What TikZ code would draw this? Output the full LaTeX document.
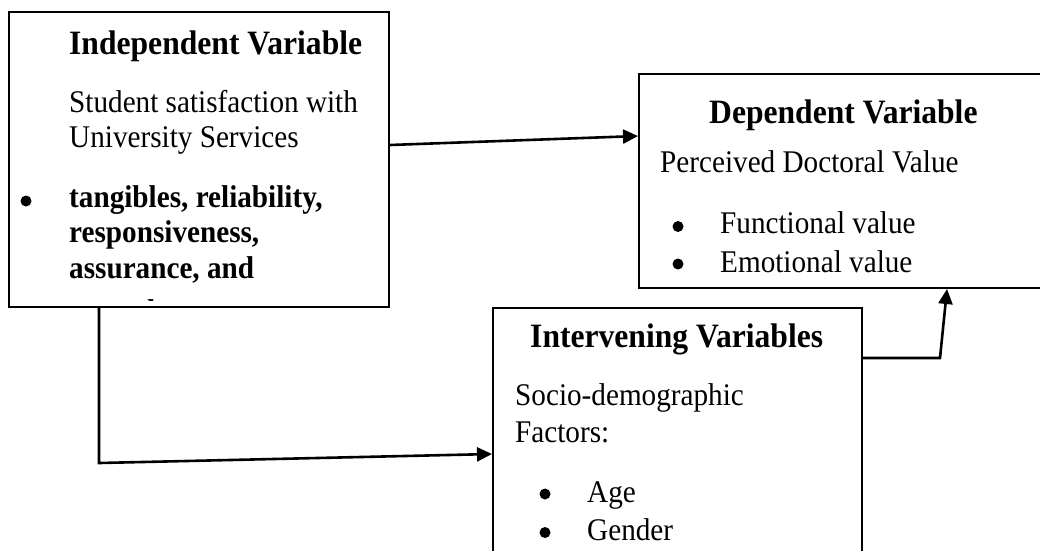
\documentclass[tikz,border=0pt]{standalone}
\usepackage{fontspec}
\setmainfont{Liberation Serif}
\usetikzlibrary{arrows.meta}

\tikzset{
  varbox/.style={draw, line width=2pt, rectangle, inner sep=0pt},
  headtxt/.style={anchor=base west, inner sep=0pt, yscale=1.08, font=\fontsize{31.6pt}{38pt}\selectfont\bfseries},
  bodytxt/.style={anchor=base west, inner sep=0pt, yscale=1.08, font=\fontsize{29.2pt}{35pt}\selectfont},
  boldtxt/.style={bodytxt, font=\fontsize{29.2pt}{35pt}\selectfont\bfseries},
  dotmark/.style={circle, fill, inner sep=0pt, minimum size=11pt},
  flow/.style={line width=2.6pt, -{Triangle[length=15pt,width=14pt]}}
}

\begin{document}
\begin{tikzpicture}[x=1pt,y=1pt]
\useasboundingbox (0,0) rectangle (1040,-550);
% the three boxes
\node [varbox, minimum width=380pt, minimum height=295pt] (indep) at (199,-159.5) {};
\node [varbox, minimum width=406pt, minimum height=214pt] (dep) at (842,-181) {};
\node [varbox, minimum width=369pt, minimum height=252pt] (interv) at (677.5,-434) {};
% independent variable
\node [headtxt] (indephead) at (69,-54) {Independent Variable};
\node [bodytxt] (indepa) at (69,-112) {Student satisfaction with};
\node [bodytxt] (indepb) at (69,-147) {University Services};
\node [dotmark] (indepdot) at (26,-201) {};
\node [boldtxt] (indepc) at (69,-207) {tangibles, reliability,};
\node [boldtxt] (indepd) at (69,-242) {responsiveness,};
\node [boldtxt] (indepe) at (69,-278) {assurance, and};
\begin{scope}
\clip (10,-13) rectangle (388,-300);
\node [boldtxt] (indepf) at (69,-321) {empathy};
\end{scope}
% dependent variable
\node [headtxt] (dephead) at (709,-123) {Dependent Variable};
\node [bodytxt] (depa) at (660,-172) {Perceived Doctoral Value};
\node [dotmark] (depdota) at (678,-226.5) {};
\node [bodytxt] (depb) at (720,-233) {Functional value};
\node [dotmark] (depdotb) at (678,-264) {};
\node [bodytxt] (depc) at (720,-272) {Emotional value};
% intervening variables
\node [headtxt] (intervhead) at (530,-347) {Intervening Variables};
\node [bodytxt] (interva) at (515,-405) {Socio-demographic};
\node [bodytxt] (intervb) at (515,-442) {Factors:};
\node [dotmark] (intervdota) at (545,-494) {};
\node [bodytxt] (intervc) at (587,-502) {Age};
\node [dotmark] (intervdotb) at (545,-532.5) {};
\node [bodytxt] (intervd) at (587,-540) {Gender};
% connectors
\coordinate (bendA) at (99,-463);
\coordinate (bendB) at (940,-358);
\draw [flow] ([yshift=14.5pt]indep.east) -- ([yshift=45pt]dep.west);
\draw [flow] (indep.south -| bendA) -- (bendA) -- ([yshift=-20pt]interv.west);
\draw [flow] (interv.east |- bendB) -- (bendB) -- ([xshift=105pt]dep.south);
\end{tikzpicture}
\end{document}
